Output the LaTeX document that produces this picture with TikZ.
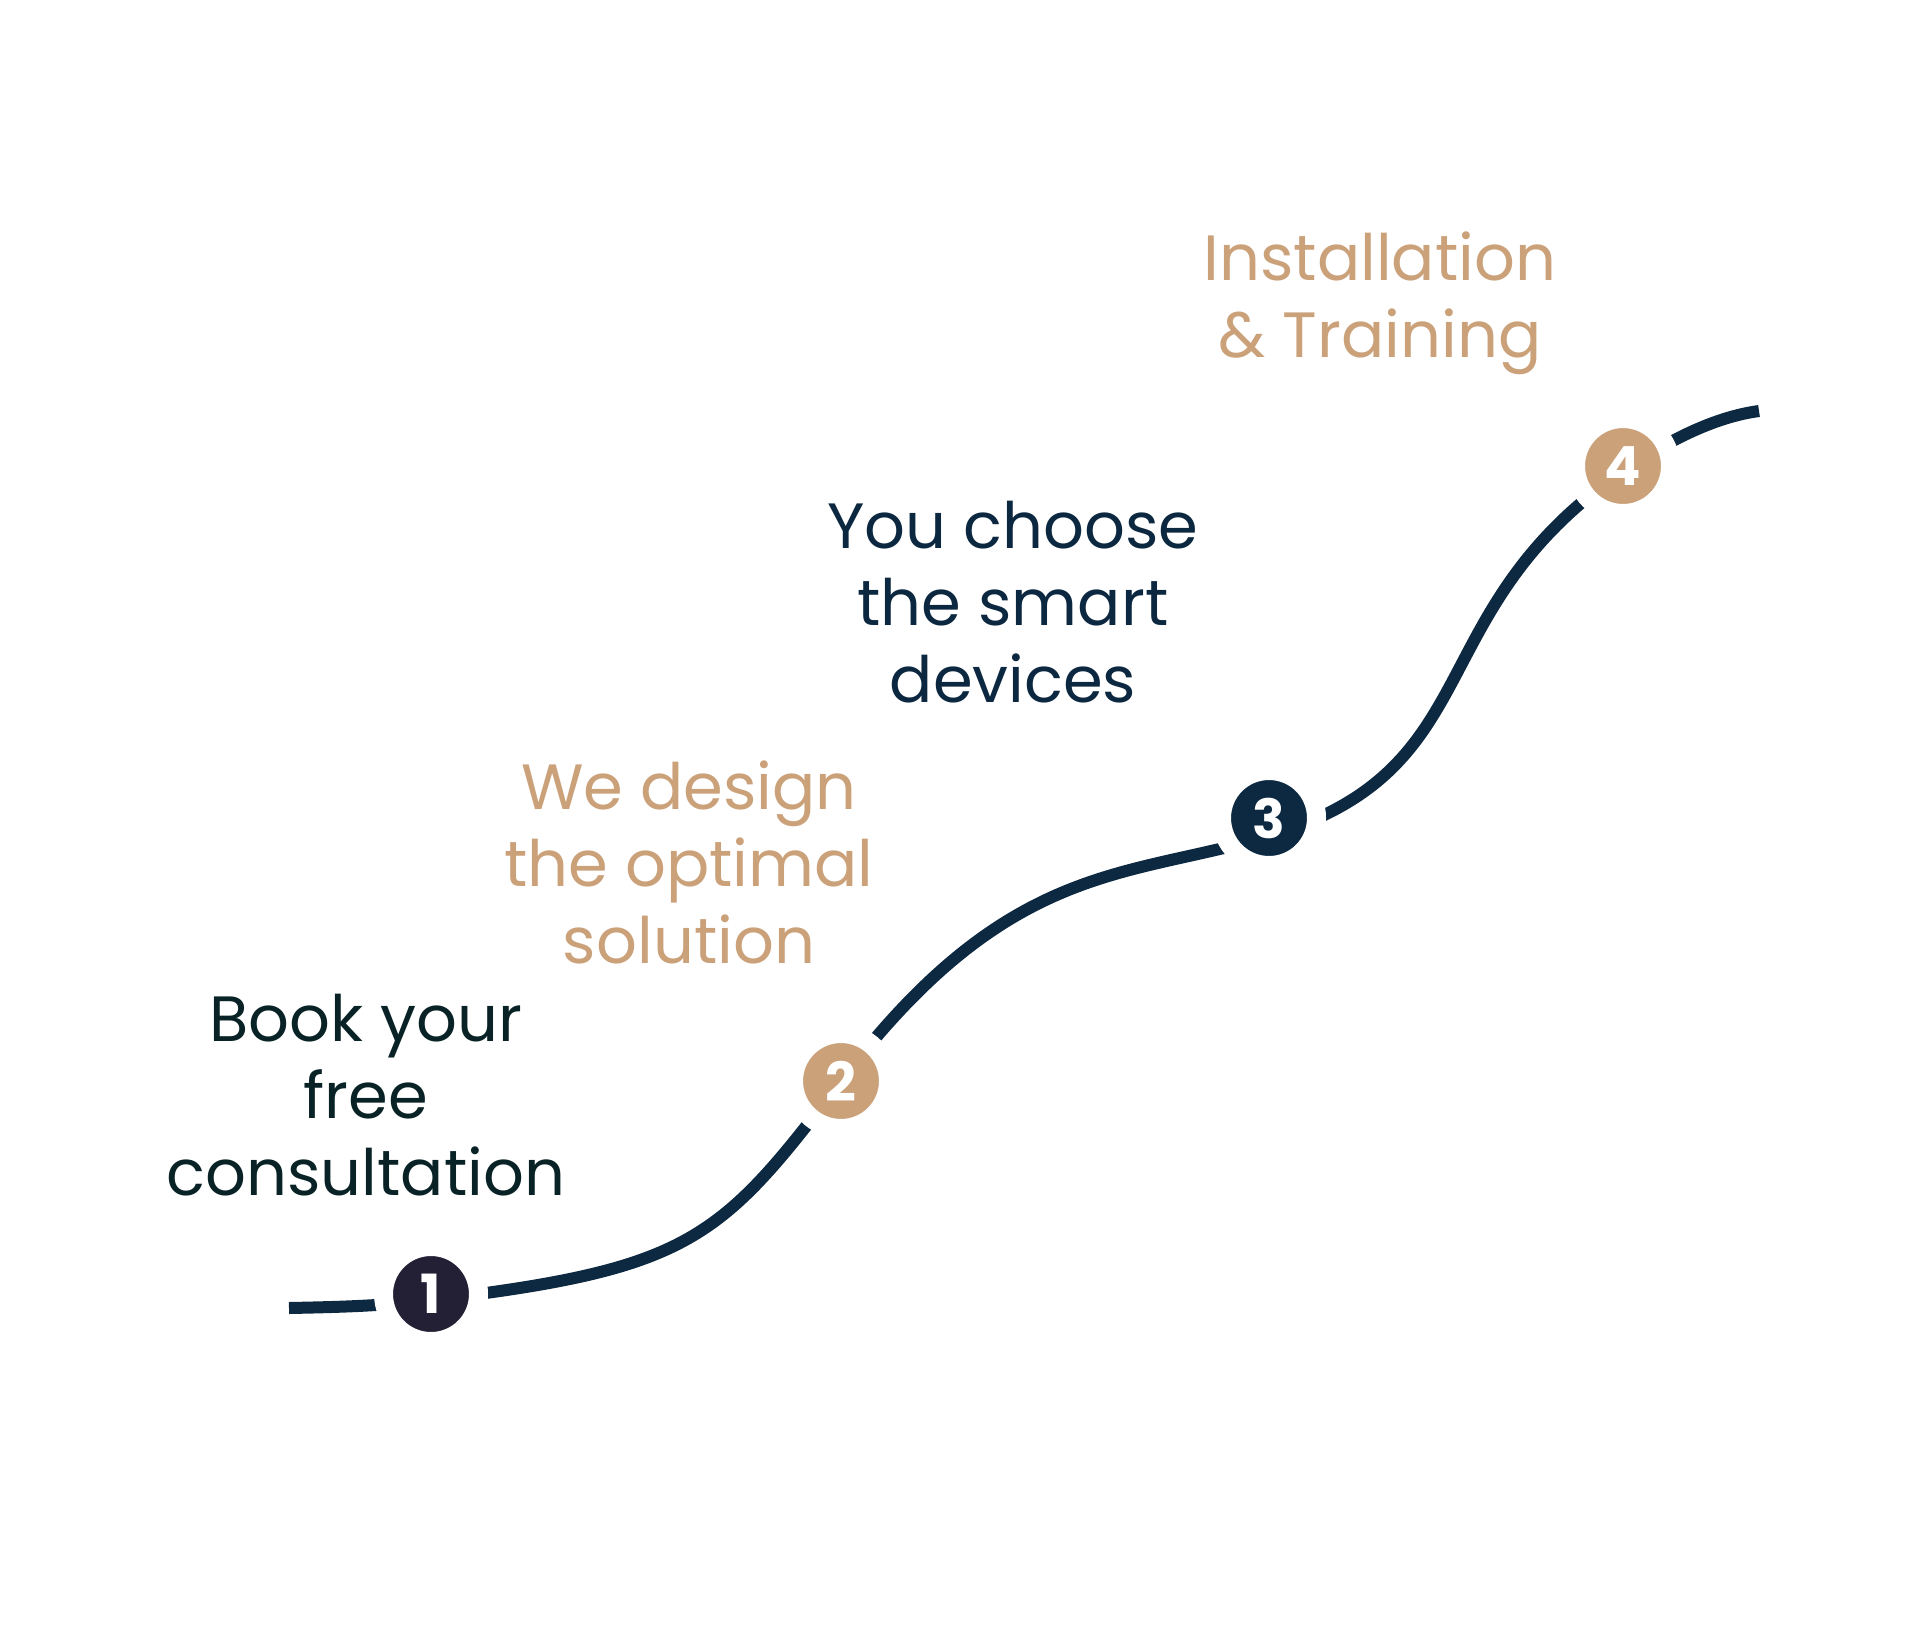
\documentclass[tikz,border=0pt]{standalone}
\usepackage{fontspec}
\setmainfont{Poppins}
\usetikzlibrary{calc,backgrounds}
\definecolor{trailnavy}{RGB}{13,41,65}
\definecolor{dotdark}{RGB}{35,32,54}
\definecolor{stepsand}{RGB}{203,161,122}
\definecolor{textteal}{RGB}{9,34,38}
\definecolor{textnavy}{RGB}{12,40,64}

\begin{document}
\begin{tikzpicture}[
    x=0.5pt, y=-0.5pt,
    trail/.style={line width=6pt, trailnavy},
    stepdot/.style={circle, minimum size=47.5pt, inner sep=0pt, draw=white, line width=9.5pt,
                    text=white, font=\fontsize{27}{27}\selectfont\bfseries},
    steptext/.style={align=center, anchor=base, font=\fontsize{32}{38.5}\selectfont}
]

% Canvas
\useasboundingbox (0,0) rectangle (1920,1627);

% Step markers along the trail
\node[stepdot, fill=dotdark] (one) at (431,1294) {1};
\node[stepdot, fill=stepsand] (two) at (841,1081) {2};
\node[stepdot, fill=trailnavy] (three) at (1269,818) {3};
\node[stepdot, fill=stepsand] (four) at (1623,466) {4};

% Step descriptions (placed by the baseline of their last line)
\node[steptext, text=textteal] (book) at (366,1195) {Book your\\free\\consultation};
\node[steptext, text=stepsand] (design) at (689,963) {We design\\the optimal\\solution};
\node[steptext, text=textnavy] (choose) at (1013,702) {You choose\\the smart\\devices};
\node[steptext, text=stepsand] (install) at (1380,357) {Installation\\\& Training};

% Loose ends of the trail
\coordinate (start) at (289,1308);
\coordinate (finish) at (1759,411);

% The trail runs under the markers
\begin{scope}[on background layer]
    \draw[trail] (start) .. controls +(50,-1) and +(-50,6) .. ($(one)+(0,6)$)
        .. controls +(260,-31) and +(-121,159) .. (two.center)
        .. controls +(169,-223) and +(-143,44) .. ($(three)+(3,17)$)
        .. controls +(220,-67) and +(-208,140) .. ($(four)+(3,3)$)
        .. controls +(42,-28) and +(-45,6) .. (finish);
\end{scope}

\end{tikzpicture}
\end{document}
